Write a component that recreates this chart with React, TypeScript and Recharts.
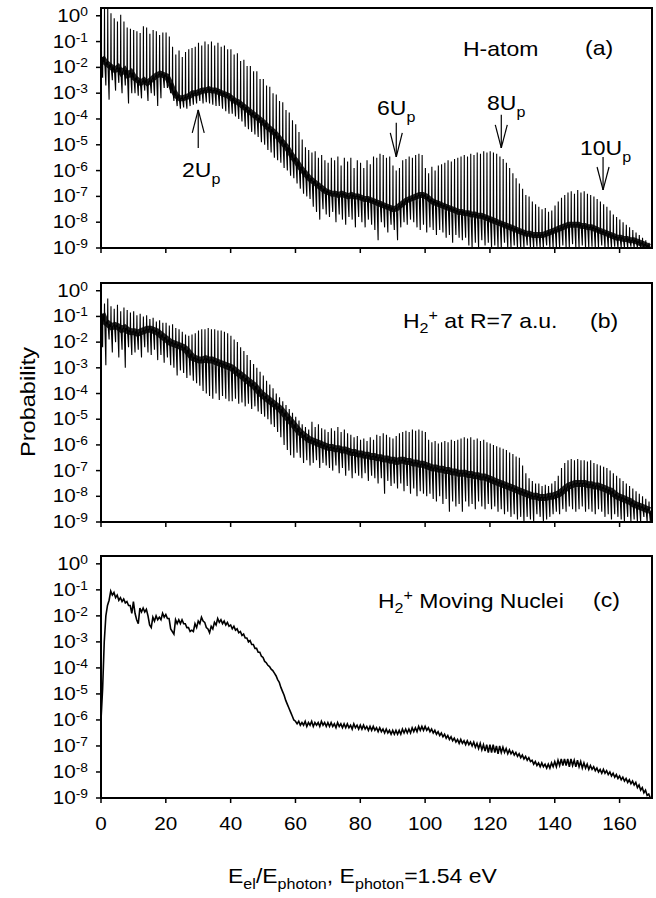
import React from 'react';
import { LineChart, Line, XAxis, YAxis, ReferenceArea, ReferenceLine } from 'recharts';

// all series values are log10(probability), one entry per unit of E_el/E_photon (0..169)
const xTicks = [0, 20, 40, 60, 80, 100, 120, 140, 160];
const yExps = [0, -1, -2, -3, -4, -5, -6, -7, -8, -9];

// (a) H-atom: tops of the harmonic spikes, dense core, bottoms of the dips
const hAtomPeak = [
  0.3, 0.3, 0.3, 0.1, -0.1, -0.22, 0.04, -0.22, -0.45, -0.5,
  -0.55, -0.6, -0.67, -0.41, -0.45, -0.7, -0.55, -0.6, -0.75, -0.65,
  -0.65, -0.8, -1.2, -1.5, -1.35, -1.6, -1.4, -1.3, -1.25, -1.2,
  -1.05, -1.15, -1.0, -1.1, -1.0, -1.15, -1.05, -1.2, -1.15, -1.3,
  -1.3, -1.5, -1.45, -1.75, -1.7, -1.95, -1.95, -2.15, -2.15, -2.45,
  -2.45, -2.7, -2.75, -3.0, -3.05, -3.3, -3.35, -3.65, -3.75, -4.05,
  -4.2, -4.5, -4.8, -5.1, -5.2, -5.3, -5.25, -5.5, -5.4, -5.6,
  -5.7, -5.5, -5.6, -5.45, -5.8, -5.5, -5.65, -5.5, -5.9, -5.6,
  -5.7, -5.9, -5.6, -5.75, -5.45, -5.5, -5.35, -5.4, -5.5, -5.45,
  -5.8, -6.0, -5.9, -5.6, -5.55, -5.45, -5.5, -5.4, -5.35, -5.4,
  -5.9, -6.1, -5.85, -6.0, -5.8, -5.75, -5.7, -5.6, -5.65, -5.55,
  -5.5, -5.45, -5.4, -5.45, -5.35, -5.4, -5.3, -5.35, -5.25, -5.3,
  -5.25, -5.3, -5.35, -5.45, -5.55, -5.7, -5.9, -6.1, -6.3, -6.5,
  -6.7, -6.95, -7.0, -7.2, -7.3, -7.4, -7.5, -7.45, -7.6, -7.55,
  -7.35, -7.2, -7.05, -6.95, -6.85, -6.8, -6.9, -6.75, -6.85, -6.8,
  -6.9, -6.95, -7.0, -7.1, -7.2, -7.3, -7.4, -7.55, -7.7, -7.8,
  -7.9, -8.0, -8.1, -8.2, -8.3, -8.4, -8.5, -8.6, -8.7, -8.8,
];
const hAtomCore = [
  -1.6, -1.8, -1.9, -2.0, -2.1, -2.0, -2.2, -2.1, -2.3, -2.2,
  -2.4, -2.5, -2.6, -2.5, -2.6, -2.5, -2.4, -2.3, -2.25, -2.3,
  -2.35, -2.6, -2.9, -3.1, -3.2, -3.2, -3.15, -3.1, -3.0, -3.0,
  -2.95, -2.9, -2.9, -2.85, -2.9, -2.9, -2.95, -3.0, -3.05, -3.1,
  -3.2, -3.3, -3.35, -3.45, -3.55, -3.65, -3.75, -3.85, -3.95, -4.05,
  -4.15, -4.3, -4.4, -4.5, -4.65, -4.8, -4.95, -5.1, -5.3, -5.5,
  -5.65, -5.85, -6.0, -6.15, -6.3, -6.4, -6.5, -6.6, -6.7, -6.8,
  -6.85, -6.9, -6.9, -6.95, -6.9, -6.95, -7.0, -6.95, -7.0, -7.0,
  -7.05, -7.1, -7.1, -7.15, -7.2, -7.25, -7.3, -7.35, -7.4, -7.45,
  -7.5, -7.45, -7.35, -7.25, -7.15, -7.1, -7.05, -7.0, -6.95, -6.95,
  -7.0, -7.1, -7.2, -7.25, -7.3, -7.35, -7.4, -7.45, -7.5, -7.55,
  -7.6, -7.6, -7.65, -7.65, -7.7, -7.7, -7.75, -7.75, -7.8, -7.85,
  -7.9, -7.95, -8.0, -8.05, -8.1, -8.15, -8.2, -8.25, -8.3, -8.35,
  -8.4, -8.45, -8.45, -8.5, -8.5, -8.5, -8.5, -8.45, -8.4, -8.35,
  -8.3, -8.25, -8.2, -8.15, -8.1, -8.1, -8.1, -8.1, -8.15, -8.15,
  -8.2, -8.2, -8.25, -8.3, -8.35, -8.4, -8.45, -8.5, -8.55, -8.6,
  -8.6, -8.65, -8.65, -8.7, -8.7, -8.75, -8.8, -8.85, -8.9, -8.95,
];
const hAtomTrough = [
  -2.4, -2.7, -3.25, -2.5, -2.9, -2.6, -3.0, -2.7, -3.4, -3.0,
  -3.0, -3.1, -3.2, -2.9, -3.3, -3.0, -3.1, -3.5, -3.2, -2.8,
  -2.8, -3.0, -3.3, -3.5, -3.6, -3.55, -3.6, -3.5, -3.45, -3.4,
  -3.3, -3.4, -3.35, -3.4, -3.45, -3.5, -3.5, -3.6, -3.7, -3.8,
  -3.8, -3.9, -4.0, -4.1, -4.3, -4.4, -4.5, -4.6, -4.7, -4.9,
  -5.0, -5.2, -5.3, -5.5, -5.6, -5.7, -5.9, -6.0, -6.2, -6.3,
  -6.5, -6.7, -6.9, -7.0, -7.1, -7.4, -7.6, -7.9, -7.5, -7.7,
  -7.8, -7.6, -8.0, -7.7, -7.9, -8.1, -7.8, -7.9, -8.2, -7.8,
  -8.0, -8.2, -7.9, -8.1, -8.3, -8.7, -8.0, -8.2, -8.4, -8.1,
  -8.3, -8.7, -8.2, -8.0, -8.1, -7.9, -8.0, -8.2, -8.3, -8.1,
  -8.4, -8.2, -8.3, -8.5, -8.3, -8.4, -8.6, -8.5, -8.8, -8.5,
  -8.6, -8.7, -8.6, -8.9, -9.0, -8.8, -9.0, -8.7, -8.9, -8.8,
  -9.0, -8.9, -9.0, -9.0, -8.8, -9.0, -9.0, -8.9, -9.0, -9.0,
  -9.0, -8.9, -9.0, -9.0, -8.95, -9.0, -9.0, -8.9, -9.0, -9.0,
  -9.0, -9.0, -8.9, -9.0, -9.0, -8.85, -9.0, -9.0, -8.9, -9.0,
  -9.0, -8.95, -9.0, -9.0, -8.9, -9.0, -9.0, -9.0, -8.95, -9.0,
  -9.0, -9.0, -9.0, -8.95, -9.0, -9.0, -9.0, -9.0, -9.0, -9.0,
];

// (b) H2+ at R = 7 a.u.
const h2FixedPeak = [
  -0.2, -0.5, -0.3, -0.6, -0.7, -0.55, -0.8, -0.65, -0.75, -0.85,
  -0.8, -0.95, -0.9, -1.0, -0.95, -1.1, -1.05, -1.2, -1.15, -1.25,
  -1.25, -1.35, -1.3, -1.45, -1.5, -1.6, -1.7, -1.75, -1.7, -1.65,
  -1.55, -1.5, -1.5, -1.45, -1.5, -1.5, -1.55, -1.55, -1.6, -1.65,
  -1.75, -1.9, -2.0, -2.2, -2.35, -2.5, -2.7, -2.85, -3.0, -3.15,
  -3.3, -3.5, -3.65, -3.8, -4.0, -4.15, -4.3, -4.45, -4.6, -4.75,
  -4.9, -5.05, -5.2, -5.3, -5.4, -5.1, -5.3, -5.2, -5.35, -5.4,
  -5.5, -5.35, -5.45, -5.3, -5.5, -5.4, -5.55, -5.6, -5.7, -5.65,
  -5.8, -5.75, -5.85, -5.7, -5.8, -5.6, -5.65, -5.55, -5.6, -5.7,
  -5.75, -5.65, -5.55, -5.5, -5.45, -5.5, -5.4, -5.45, -5.4, -5.45,
  -5.5, -5.8, -5.9, -5.85, -5.95, -5.9, -5.85, -5.9, -5.8, -5.85,
  -5.8, -5.75, -5.7, -5.75, -5.7, -5.8, -5.75, -5.85, -5.8, -5.9,
  -5.95, -6.0, -6.05, -6.1, -6.15, -6.2, -6.3, -6.35, -6.45, -6.5,
  -6.8, -7.1, -7.3, -7.4, -7.5, -7.5, -7.6, -7.55, -7.6, -7.5,
  -7.4, -7.2, -6.9, -6.7, -6.6, -6.55, -6.6, -6.55, -6.6, -6.6,
  -6.65, -6.6, -6.7, -6.75, -6.8, -6.85, -6.9, -7.0, -7.1, -7.2,
  -7.3, -7.4, -7.5, -7.6, -7.7, -7.8, -7.9, -8.0, -8.1, -8.2,
];
const h2FixedCore = [
  -0.9, -1.2, -1.3, -1.4, -1.35, -1.4, -1.5, -1.45, -1.55, -1.6,
  -1.6, -1.65, -1.6, -1.55, -1.5, -1.5, -1.55, -1.6, -1.7, -1.8,
  -1.9, -2.0, -2.05, -2.1, -2.15, -2.2, -2.3, -2.45, -2.6, -2.65,
  -2.7, -2.7, -2.65, -2.7, -2.7, -2.75, -2.8, -2.85, -2.9, -2.95,
  -3.0, -3.1, -3.2, -3.3, -3.4, -3.5, -3.6, -3.7, -3.85, -4.0,
  -4.1, -4.2, -4.3, -4.4, -4.5, -4.6, -4.75, -4.9, -5.05, -5.2,
  -5.35, -5.5, -5.6, -5.7, -5.8, -5.85, -5.9, -5.95, -6.0, -6.05,
  -6.1, -6.1, -6.15, -6.15, -6.2, -6.2, -6.25, -6.3, -6.3, -6.35,
  -6.35, -6.4, -6.4, -6.45, -6.45, -6.5, -6.5, -6.55, -6.55, -6.6,
  -6.6, -6.65, -6.6, -6.6, -6.65, -6.65, -6.7, -6.7, -6.75, -6.75,
  -6.8, -6.85, -6.9, -6.9, -6.95, -6.95, -7.0, -7.0, -7.05, -7.05,
  -7.1, -7.1, -7.1, -7.15, -7.15, -7.2, -7.2, -7.25, -7.25, -7.3,
  -7.35, -7.4, -7.45, -7.5, -7.55, -7.6, -7.65, -7.7, -7.75, -7.8,
  -7.85, -7.9, -7.95, -8.0, -8.0, -8.05, -8.05, -8.05, -8.0, -8.0,
  -7.95, -7.9, -7.8, -7.7, -7.6, -7.55, -7.5, -7.5, -7.5, -7.5,
  -7.55, -7.55, -7.6, -7.6, -7.65, -7.7, -7.75, -7.8, -7.9, -8.0,
  -8.05, -8.1, -8.15, -8.2, -8.3, -8.35, -8.4, -8.45, -8.5, -8.55,
];
const h2FixedTrough = [
  -2.2, -2.9, -1.9, -2.4, -2.0, -2.6, -2.3, -3.0, -2.2, -2.5,
  -2.4, -2.3, -2.6, -2.2, -2.4, -2.5, -2.3, -2.7, -2.5, -2.8,
  -2.6, -2.9, -3.0, -3.3, -3.1, -3.2, -3.4, -3.3, -3.5, -3.6,
  -3.7, -3.9, -4.0, -4.1, -4.2, -4.0, -4.25, -4.1, -4.2, -4.3,
  -4.3, -4.2, -4.4, -4.35, -4.5, -4.4, -4.6, -4.5, -4.7, -4.8,
  -4.9, -5.0, -5.2, -5.3, -5.5, -5.7, -6.0, -6.2, -6.4, -6.5,
  -6.3, -6.5, -6.7, -6.6, -6.8, -6.7, -6.6, -6.9, -6.7, -6.8,
  -6.9, -7.0, -6.8, -7.1, -6.9, -7.2, -7.0, -7.3, -7.1, -7.2,
  -7.3, -7.1, -7.4, -7.2, -7.3, -7.5, -7.3, -7.9, -7.4, -7.6,
  -7.5, -7.7, -7.5, -7.8, -7.6, -7.9, -7.7, -8.0, -7.8, -7.9,
  -8.0, -7.9, -8.1, -8.2, -8.0, -8.3, -8.1, -8.6, -8.2, -8.4,
  -8.3, -8.6, -8.2, -8.4, -8.3, -8.5, -8.2, -8.4, -8.5, -8.3,
  -8.5, -8.4, -8.6, -8.5, -8.7, -8.6, -8.8, -8.7, -8.9, -8.8,
  -9.0, -8.8, -8.9, -9.0, -8.7, -8.8, -9.0, -8.9, -8.8, -8.7,
  -8.6, -8.7, -8.5, -8.6, -8.4, -8.5, -8.6, -8.5, -8.4, -8.6,
  -8.5, -8.6, -8.7, -8.5, -8.6, -8.8, -8.7, -8.9, -8.7, -8.8,
  -8.9, -9.0, -8.8, -9.0, -8.9, -9.0, -9.0, -8.8, -9.0, -9.0,
];

// (c) H2+ moving nuclei: upper (integer x) and lower (half-integer x) side of the ripple
const h2MovingHigh = [
  -6.0, -3.0, -1.6, -1.05, -1.1, -1.2, -1.3, -1.35, -1.45, -1.6,
  -1.45, -2.15, -1.7, -1.7, -1.75, -2.35, -2.05, -2.0, -2.05, -1.9,
  -1.95, -2.1, -2.6, -2.15, -2.15, -2.15, -2.3, -2.45, -2.55, -2.3,
  -2.2, -2.05, -2.25, -2.5, -2.4, -2.25, -2.1, -2.15, -2.2, -2.25,
  -2.35, -2.4, -2.5, -2.6, -2.7, -2.85, -2.95, -3.1, -3.25, -3.4,
  -3.6, -3.8, -3.95, -4.1, -4.3, -4.55, -4.9, -5.25, -5.55, -5.85,
  -6.05, -6.05, -6.1, -6.05, -6.1, -6.05, -6.1, -6.1, -6.05, -6.1,
  -6.1, -6.1, -6.15, -6.1, -6.15, -6.15, -6.15, -6.2, -6.15, -6.2,
  -6.2, -6.2, -6.25, -6.25, -6.25, -6.3, -6.3, -6.35, -6.35, -6.4,
  -6.4, -6.4, -6.4, -6.35, -6.35, -6.35, -6.3, -6.3, -6.25, -6.25,
  -6.25, -6.3, -6.35, -6.4, -6.45, -6.5, -6.55, -6.6, -6.65, -6.7,
  -6.75, -6.75, -6.8, -6.8, -6.85, -6.85, -6.9, -6.9, -6.95, -6.95,
  -6.95, -6.95, -7.0, -7.0, -7.05, -7.1, -7.15, -7.2, -7.25, -7.3,
  -7.35, -7.4, -7.45, -7.55, -7.6, -7.65, -7.65, -7.7, -7.7, -7.65,
  -7.6, -7.55, -7.5, -7.5, -7.5, -7.5, -7.55, -7.55, -7.6, -7.65,
  -7.7, -7.75, -7.8, -7.85, -7.9, -7.9, -7.95, -8.0, -8.05, -8.1,
  -8.15, -8.2, -8.25, -8.3, -8.35, -8.4, -8.5, -8.6, -8.7, -8.85,
];
const h2MovingLow = [
  -4.8, -2.0, -1.4, -1.2, -1.3, -1.4, -1.45, -1.5, -1.6, -1.9,
  -1.9, -2.3, -1.85, -1.85, -2.0, -2.45, -2.2, -2.15, -2.15, -2.05,
  -2.1, -2.5, -2.7, -2.3, -2.3, -2.3, -2.45, -2.6, -2.6, -2.45,
  -2.3, -2.2, -2.45, -2.65, -2.5, -2.35, -2.25, -2.3, -2.35, -2.4,
  -2.5, -2.55, -2.65, -2.75, -2.85, -3.0, -3.1, -3.25, -3.4, -3.55,
  -3.75, -3.9, -4.05, -4.2, -4.45, -4.75, -5.05, -5.4, -5.7, -6.0,
  -6.15, -6.2, -6.2, -6.25, -6.2, -6.25, -6.2, -6.25, -6.2, -6.25,
  -6.25, -6.25, -6.3, -6.25, -6.3, -6.3, -6.3, -6.35, -6.3, -6.35,
  -6.35, -6.35, -6.4, -6.4, -6.4, -6.45, -6.45, -6.5, -6.5, -6.55,
  -6.55, -6.55, -6.55, -6.5, -6.5, -6.5, -6.45, -6.45, -6.4, -6.4,
  -6.4, -6.45, -6.5, -6.55, -6.6, -6.65, -6.7, -6.75, -6.8, -6.85,
  -6.9, -6.9, -6.95, -6.95, -7.0, -7.05, -7.1, -7.15, -7.2, -7.25,
  -7.25, -7.25, -7.3, -7.25, -7.25, -7.3, -7.3, -7.35, -7.4, -7.45,
  -7.5, -7.55, -7.6, -7.7, -7.75, -7.8, -7.8, -7.85, -7.85, -7.8,
  -7.8, -7.75, -7.75, -7.75, -7.8, -7.75, -7.8, -7.8, -7.85, -7.85,
  -7.9, -7.9, -7.95, -8.0, -8.05, -8.05, -8.1, -8.15, -8.2, -8.25,
  -8.3, -8.35, -8.4, -8.45, -8.5, -8.6, -8.7, -8.8, -8.9, -9.0,
];

// nUp arrows in panel (a): x position, tail, tip and barb heights (log10)
const upArrows = [
  { label: '2', x: 30.0, tail: -5.12, tip: -3.65, barb: -4.54 },
  { label: '6', x: 91.1, tail: -4.15, tip: -5.47, barb: -4.54 },
  { label: '8', x: 123.5, tail: -3.84, tip: -5.12, barb: -4.23 },
  { label: '10', x: 154.9, tail: -5.47, tip: -6.75, barb: -5.86 },
];

const FONT = 'Liberation Sans, Arial, Helvetica, sans-serif';
const SX = 1.15;

type Row = { x: number; p: number };

function spikeRows(peak: number[], core: number[], trough: number[]): Row[] {
  const rows: Row[] = [];
  core.forEach((c, i) => {
    rows.push({ x: i, p: 10 ** c });
    rows.push({ x: i + 0.08, p: 10 ** peak[i] });
    rows.push({ x: i + 0.16, p: 10 ** c });
    rows.push({ x: i + 0.5, p: 10 ** trough[i] });
    rows.push({ x: i + 0.58, p: 10 ** c });
  });
  return rows;
}

function coreRows(core: number[]): Row[] {
  return core.map((c, i) => ({ x: i + 0.3, p: 10 ** c }));
}

function rippleRows(high: number[], low: number[]): Row[] {
  const rows: Row[] = [];
  high.forEach((h, i) => {
    rows.push({ x: i, p: 10 ** h });
    rows.push({ x: i + 0.5, p: 10 ** low[i] });
  });
  return rows;
}

const hAtomRows = spikeRows(hAtomPeak, hAtomCore, hAtomTrough);
const hAtomBand = coreRows(hAtomCore);
const h2FixedRows = spikeRows(h2FixedPeak, h2FixedCore, h2FixedTrough);
const h2FixedBand = coreRows(h2FixedCore);
const h2MovingRows = rippleRows(h2MovingHigh, h2MovingLow);

const YTick = (props: any) => {
  const { x, y, payload } = props;
  const e = Math.round(Math.log10(payload.value));
  return (
    <text
      transform={`translate(${x} ${y + 6}) scale(${SX} 1)`}
      textAnchor="end"
      fontFamily={FONT}
      fontSize={18}
      fill="#000"
    >
      10<tspan dy={-6} fontSize={12}>{e === 0 ? '0' : String(e)}</tspan>
    </text>
  );
};

const XTick = (props: any) => {
  const { x, y, payload } = props;
  return (
    <text
      transform={`translate(${x} ${y + 25}) scale(${SX} 1)`}
      textAnchor="middle"
      fontFamily={FONT}
      fontSize={18}
      fill="#000"
    >
      {payload.value}
    </text>
  );
};

const T = ({ x, y, size, anchor = 'start', rotate = 0, children }: any) => (
  <text
    transform={`translate(${x} ${y}) rotate(${rotate}) scale(${SX} 1)`}
    fontSize={size}
    textAnchor={anchor}
    fontFamily={FONT}
    fill="#000"
  >
    {children}
  </text>
);

const Panel = ({ top, plotH, axisH, labels, children }: any) => (
  <div style={{ position: 'absolute', left: 0, top }}>
    <LineChart width={656} height={8 + plotH + axisH} margin={{ top: 8, right: 4, bottom: 0, left: 0 }}>
      <XAxis
        type="number"
        dataKey="x"
        domain={[0, 170]}
        ticks={xTicks}
        interval={0}
        allowDataOverflow
        height={axisH}
        tickSize={5}
        tickLine={{ stroke: '#000', strokeWidth: 1.5 }}
        axisLine={{ stroke: '#000', strokeWidth: 2 }}
        tick={labels ? (p: any) => <XTick {...p} /> : () => <g />}
      />
      <YAxis
        type="number"
        scale="log"
        domain={[1e-9, 2]}
        ticks={yExps.map((e) => 10 ** e)}
        interval={0}
        allowDataOverflow
        width={101}
        tickSize={5}
        tickMargin={8}
        tickLine={{ stroke: '#000', strokeWidth: 1.5 }}
        axisLine={{ stroke: '#000', strokeWidth: 2 }}
        tick={(p: any) => <YTick {...p} />}
      />
      <ReferenceArea x1={0} x2={170} y1={1e-9} y2={2} fill="none" stroke="#000" strokeWidth={2} ifOverflow="visible" />
      {children}
    </LineChart>
  </div>
);

export default function App() {
  return (
    <div style={{ position: 'absolute', left: 0, top: 0, width: 656, height: 898, background: '#fff' }}>
      <Panel top={0} plotH={240} axisH={20} labels={false}>
        <Line data={hAtomBand} dataKey="p" type="linear" stroke="#000" strokeOpacity={0.85} strokeWidth={6} dot={false} isAnimationActive={false} />
        <Line data={hAtomRows} dataKey="p" type="linear" stroke="#000" strokeWidth={1.1} dot={false} isAnimationActive={false} />
        {upArrows.flatMap((a) => [
          [{ x: a.x, y: 10 ** a.tail }, { x: a.x, y: 10 ** a.tip }],
          [{ x: a.x - 1.85, y: 10 ** a.barb }, { x: a.x, y: 10 ** a.tip }],
          [{ x: a.x + 1.85, y: 10 ** a.barb }, { x: a.x, y: 10 ** a.tip }],
        ]).map((seg, i) => (
          <ReferenceLine key={i} segment={seg} stroke="#000" strokeWidth={1.2} ifOverflow="visible" />
        ))}
      </Panel>
      <Panel top={275} plotH={239} axisH={20} labels={false}>
        <Line data={h2FixedBand} dataKey="p" type="linear" stroke="#000" strokeOpacity={0.85} strokeWidth={7} dot={false} isAnimationActive={false} />
        <Line data={h2FixedRows} dataKey="p" type="linear" stroke="#000" strokeWidth={1.1} dot={false} isAnimationActive={false} />
      </Panel>
      <Panel top={548} plotH={242} axisH={42} labels>
        <Line data={h2MovingRows} dataKey="p" type="linear" stroke="#000" strokeWidth={1.6} dot={false} isAnimationActive={false} />
      </Panel>
      <svg width={656} height={898} style={{ position: 'absolute', left: 0, top: 0, pointerEvents: 'none' }}>
        <T x={463} y={56} size={20}>H-atom</T>
        <T x={585} y={55} size={20}>(a)</T>
        <T x={182} y={177} size={20}>2U<tspan dy={7} fontSize={14}>p</tspan></T>
        <T x={377} y={115} size={20}>6U<tspan dy={7} fontSize={14}>p</tspan></T>
        <T x={487} y={110} size={20}>8U<tspan dy={7} fontSize={14}>p</tspan></T>
        <T x={580} y={155} size={20}>10U<tspan dy={7} fontSize={14}>p</tspan></T>
        <T x={403} y={328} size={20}>
          H<tspan dy={5} fontSize={14}>2</tspan><tspan dy={-13} fontSize={14}>+</tspan>
          <tspan dy={8}> at R=7 a.u.</tspan>
        </T>
        <T x={590} y={328} size={20}>(b)</T>
        <T x={378} y={608} size={20}>
          H<tspan dy={5} fontSize={14}>2</tspan><tspan dy={-13} fontSize={14}>+</tspan>
          <tspan dy={8}> Moving Nuclei</tspan>
        </T>
        <T x={593} y={607} size={20}>(c)</T>
        <T x={35} y={402} size={20.5} anchor="middle" rotate={-90}>Probability</T>
        <T x={228} y={883} size={20}>
          E<tspan dy={6} fontSize={14}>el</tspan>
          <tspan dy={-6}>/E</tspan>
          <tspan dy={6} fontSize={14}>photon</tspan>
          <tspan dy={-6}>, E</tspan>
          <tspan dy={6} fontSize={14}>photon</tspan>
          <tspan dy={-6}>=1.54 eV</tspan>
        </T>
      </svg>
    </div>
  );
}
